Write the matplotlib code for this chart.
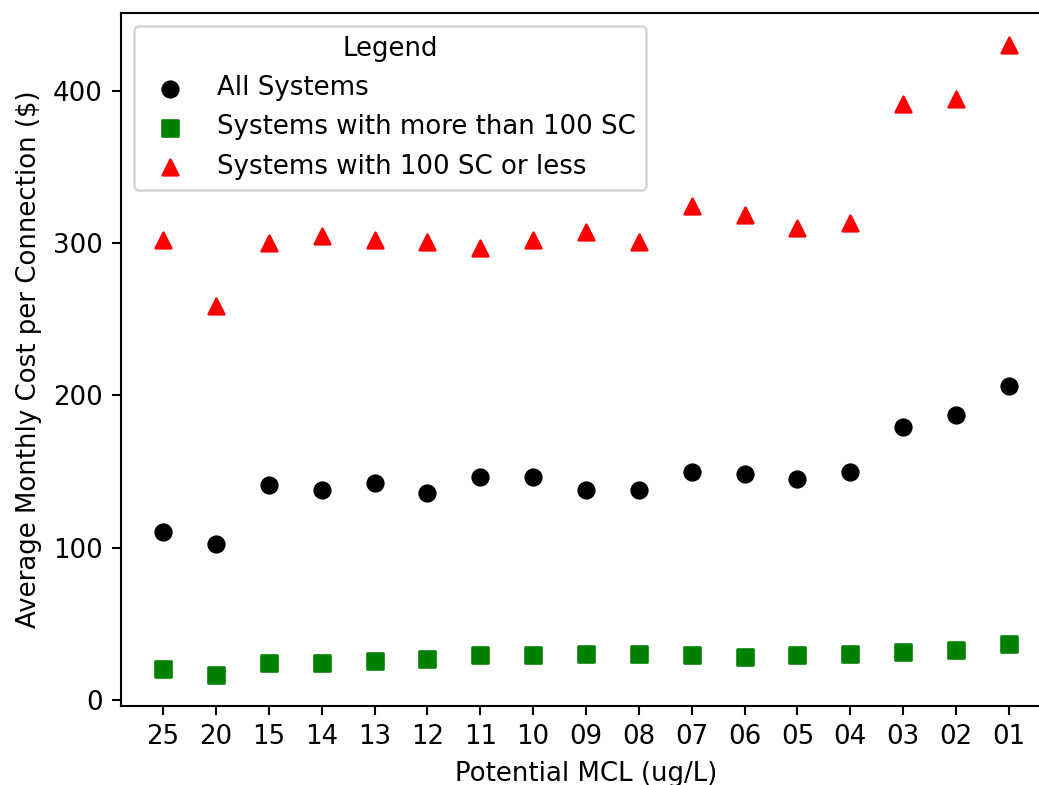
import matplotlib
matplotlib.use("Agg")
import matplotlib.pyplot as plt

mcl = ['25', '20', '15', '14', '13', '12', '11', '10', '09',
       '08', '07', '06', '05', '04', '03', '02', '01']
all_systems = [110.4, 102.1, 141.0, 137.7, 142.5, 136.2, 146.2, 146.2, 137.7,
               137.7, 150.0, 148.6, 144.9, 150.0, 179.5, 186.9, 206.1]
large_systems = [20.3, 16.6, 24.1, 24.1, 25.4, 26.7, 29.1, 29.1, 30.3,
                 30.3, 29.1, 27.8, 29.1, 30.2, 31.5, 32.8, 36.5]
small_systems = [302.5, 259.0, 300.0, 305.0, 302.0, 301.0, 297.0, 302.0, 307.7,
                 301.0, 324.7, 318.5, 309.8, 313.6, 391.3, 394.9, 430.7]

dpi = 187.5
W, H = 1039, 785
fig = plt.figure(figsize=(W / dpi, H / dpi), dpi=dpi)
# axes placed in pixels; right edge runs past the image like the reference crop
ax = fig.add_axes([120.7 / W, (H - 706) / H, 930.6 / W, 693 / H])

ax.scatter(mcl, all_systems, color='black', marker='o', label='All Systems')
ax.scatter(mcl, large_systems, color='green', marker='s',
           label='Systems with more than 100 SC')
ax.scatter(mcl, small_systems, color='red', marker='^',
           label='Systems with 100 SC or less')

ax.set_xlabel('Potential MCL (ug/L)')
ax.set_ylabel('Average Monthly Cost per Connection (\\$)')
ax.set_yticks([0, 100, 200, 300, 400])
ax.legend(title='Legend', loc='upper left')

fig.savefig('out.png', dpi=dpi)
